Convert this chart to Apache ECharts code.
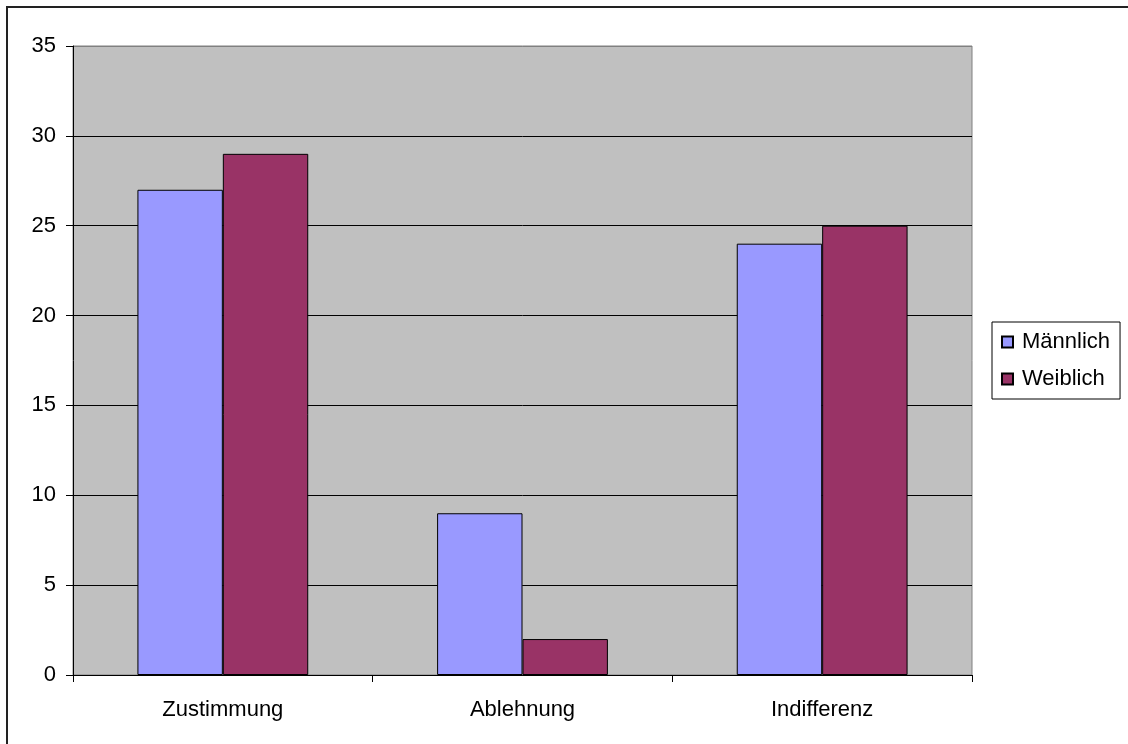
<!DOCTYPE html>
<html lang="de">
  <head>
    <meta charset="UTF-8">
    <title>Zustimmung / Ablehnung / Indifferenz</title>
    <style>
      html, body { margin: 0; padding: 0; background: #fff; }
      .chart { width: 1128px; height: 744px; }
    </style>
  </head>
  <body>
    <div id="chart" class="chart"></div>
    <script src="https://cdn.jsdelivr.net/npm/echarts@6/dist/echarts.min.js"></script>
    <script type="text/javascript">
      var categories = ['Zustimmung', 'Ablehnung', 'Indifferenz'];
      var maennlich = [27, 9, 24];
      var weiblich = [29, 2, 25];

      var myChart = echarts.init(document.getElementById('chart'));
      var font = 'Liberation Sans, Arial, sans-serif';

      var option = {
        backgroundColor: '#fff',
        animation: false,
        textStyle: { fontFamily: font },
        graphic: [{
          type: 'rect',
          shape: { x: 7, y: 7, width: 1300, height: 900 },
          style: { fill: 'none', stroke: '#222', lineWidth: 2 }
        }],
        grid: {
          left: 73, right: 156, top: 46, bottom: 69,
          show: true,
          backgroundColor: '#c0c0c0',
          borderColor: '#808080',
          borderWidth: 1
        },
        legend: {
          orient: 'vertical',
          left: 992, top: 322,
          padding: [9, 10, 9, 9],
          itemGap: 15,
          itemWidth: 11, itemHeight: 11,
          icon: 'rect',
          borderColor: '#000', borderWidth: 1,
          backgroundColor: '#fff',
          textStyle: { fontSize: 22, color: '#000', fontFamily: font, padding: [0, 0, 0, 4] },
          data: ['Männlich', 'Weiblich']
        },
        xAxis: {
          type: 'category',
          data: categories,
          axisLine: { lineStyle: { color: '#000', width: 1 } },
          axisTick: { show: true, length: 7, lineStyle: { color: '#000' } },
          axisLabel: { color: '#000', fontSize: 22, margin: 24, fontFamily: font }
        },
        yAxis: {
          type: 'value',
          min: 0, max: 35, interval: 5,
          axisLine: { show: true, lineStyle: { color: '#000', width: 1 } },
          axisTick: { show: true, length: 7, lineStyle: { color: '#000' } },
          axisLabel: { color: '#000', fontSize: 22, margin: 17, fontFamily: font },
          splitLine: {
            show: true,
            lineStyle: { color: ['#000', '#000', '#000', '#000', '#000', '#000', '#000', '#808080'], width: 1 }
          }
        },
        series: [{
          name: 'Männlich',
          type: 'bar',
          data: maennlich,
          barGap: '0%',
          barCategoryGap: '43%',
          itemStyle: { color: '#9999ff', borderColor: '#000', borderWidth: 1 }
        }, {
          name: 'Weiblich',
          type: 'bar',
          data: weiblich,
          barGap: '0%',
          barCategoryGap: '43%',
          itemStyle: { color: '#993366', borderColor: '#000', borderWidth: 1 }
        }]
      };

      myChart.setOption(option);
    </script>
  </body>
</html>
